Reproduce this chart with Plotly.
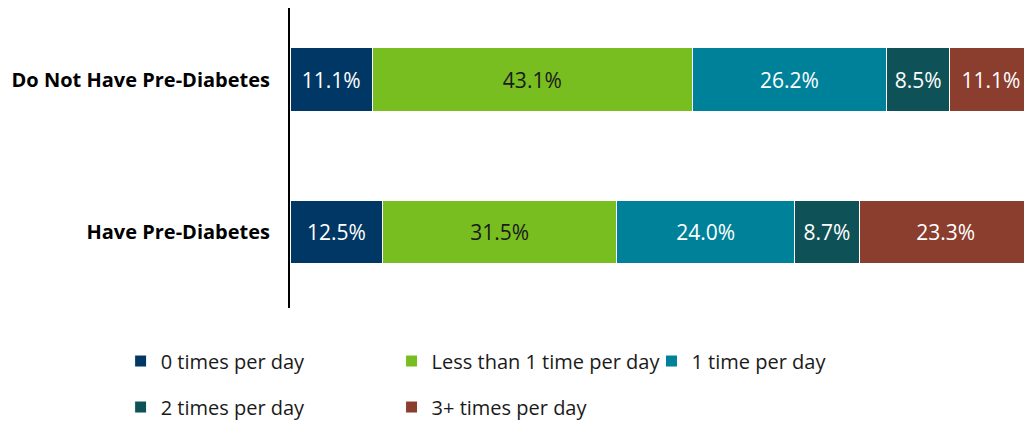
import plotly.graph_objects as go

categories = ["Do Not Have Pre-Diabetes", "Have Pre-Diabetes"]
series_names = ["0 times per day", "Less than 1 time per day", "1 time per day",
                "2 times per day", "3+ times per day"]
values = {
    "0 times per day": [11.1, 12.5],
    "Less than 1 time per day": [43.1, 31.5],
    "1 time per day": [26.2, 24.0],
    "2 times per day": [8.5, 8.7],
    "3+ times per day": [11.1, 23.3],
}
colors = ["#003764", "#78BE21", "#00819A", "#0E5257", "#8B3D2E"]
text_colors = ["white", "#1a1a1a", "white", "white", "white"]
legend_ids = ["legend", "legend2", "legend3", "legend4", "legend5"]

FONT = "Open Sans"

fig = go.Figure()
for name, col, tc, lg in zip(series_names, colors, text_colors, legend_ids):
    v = values[name]
    fig.add_trace(go.Bar(
        y=categories, x=v, name=name, orientation="h", legend=lg,
        marker=dict(color=col, line=dict(color="white", width=1)),
        text=[f"{x:.1f}%" for x in v], textposition="inside",
        insidetextanchor="middle", constraintext="none",
        textfont=dict(color=tc, size=21, family=FONT),
        hoverinfo="skip",
    ))

legend_common = dict(orientation="h", xanchor="left", yanchor="middle",
                     xref="container", yref="container",
                     font=dict(size=20, color="#1a1a1a", family=FONT),
                     bgcolor="rgba(0,0,0,0)")
col_x = [0.1178, 0.3824, 0.6362]
row_y = [0.1445, 0.0355]

fig.update_layout(
    barmode="stack", bargap=0.585,
    width=1024, height=422,
    margin=dict(l=290, r=0, t=8, b=114),
    paper_bgcolor="white", plot_bgcolor="white",
    font=dict(family=FONT, size=18, color="#1a1a1a"),
    xaxis=dict(range=[0, 98.9], visible=False, fixedrange=True),
    yaxis=dict(categoryorder="array", categoryarray=categories[::-1],
               range=[-0.498, 1.469],
               showline=True, linecolor="black", linewidth=2,
               ticks="", ticklabelstandoff=14,
               tickfont=dict(family=FONT, size=20, color="black", weight="bold"),
               showgrid=False, fixedrange=True),
    legend=dict(x=col_x[0], y=row_y[0], **legend_common),
    legend2=dict(x=col_x[1], y=row_y[0], **legend_common),
    legend3=dict(x=col_x[2], y=row_y[0], **legend_common),
    legend4=dict(x=col_x[0], y=row_y[1], **legend_common),
    legend5=dict(x=col_x[1], y=row_y[1], **legend_common),
    showlegend=True,
)

fig.write_html("out.html")
